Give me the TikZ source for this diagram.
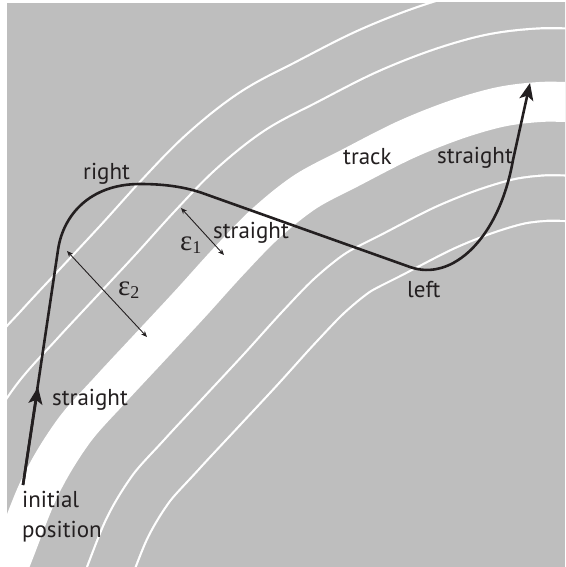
\documentclass[tikz,border=0pt]{standalone}
\usepackage{fontspec}
\setmainfont{PT Sans}
\newfontfamily\grfont{Liberation Serif}
\usetikzlibrary{arrows.meta}
\definecolor{trackgray}{RGB}{190,190,190}
\definecolor{ink}{RGB}{35,31,32}
\begin{document}
\begin{tikzpicture}[x=1pt,y=-1pt,
  lbl/.style={font=\fontsize{23}{25}\selectfont, text=ink, inner sep=0pt, anchor=base west},
  eps/.style={font=\grfont\fontsize{29}{30}\selectfont, text=ink, inner sep=0pt, anchor=base west},
  traj/.style={draw=ink, line width=2.6pt, line join=round},
  bigtip/.style={-{Stealth[length=17pt,width=14pt,inset=4pt]}},
  dist/.style={draw=ink, line width=0.9pt, {Stealth[length=6pt,width=5pt]}-{Stealth[length=6pt,width=5pt]}}
]
\useasboundingbox (0,0) rectangle (565,567);
\fill[white] (0,0) rectangle (565,567);
\fill[trackgray] (7,3) rectangle (565,567);
\begin{scope}
\clip (7,3) rectangle (565,567);
\foreach \w/\c in {240.2/white,235.8/trackgray,149.2/white,144.8/trackgray,40/white}{
  \draw[\c, line width=\w pt, line join=round] plot[smooth, tension=0.55] coordinates {(-41,687) (8,567) (40,487) (73,432) (110,390) (150,347) (190,304) (228,262) (265,224) (305,192) (350,168) (405,140) (455,120) (500,107) (540,102) (580,102) (720,102)};
}
\end{scope}
% trajectory
\coordinate (s0) at (23,485);
\coordinate (m1) at (38,387);
\coordinate (s1) at (58,250);
\coordinate (s2) at (140,184);
\coordinate (s3) at (205,194);
\coordinate (s4) at (410,267);
\coordinate (s5) at (513,160);
\coordinate (s6) at (530,83);
\draw[traj, bigtip] (s0) -- (s1) .. controls (63,215) and (90,184) .. (s2)
  .. controls (165,184) and (186,187) .. (s3) -- (s4)
  .. controls (452,282) and (499,239) .. (s5) -- (s6);
\draw[traj, bigtip] (s0) -- (m1);
% distances
\coordinate (e1a) at (181,208);
\coordinate (e1b) at (224,255);
\coordinate (e2a) at (67,251);
\coordinate (e2b) at (147,337);
\draw[dist] (e1a) -- (e1b);
\draw[dist] (e2a) -- (e2b);
% labels
\node[lbl] (lright) at (83,179) {right};
\node[lbl] (lstr1) at (213,238) {straight};
\node[lbl] (lstr0) at (52,405) {straight};
\node[lbl] (linit) at (22,507) {initial};
\node[lbl] (lpos) at (22,537) {position};
\node[lbl] (ltrack) at (343,164) {track};
\node[lbl] (lstr2) at (437,163) {straight};
\node[lbl] (lleft) at (407,297) {left};
\node[eps] (leps1) at (180,250) {ε\raisebox{-3pt}{\fontsize{18}{19}\selectfont 1}};
\node[eps] (leps2) at (118,295) {ε\raisebox{-3pt}{\fontsize{18}{19}\selectfont 2}};
\end{tikzpicture}
\end{document}
